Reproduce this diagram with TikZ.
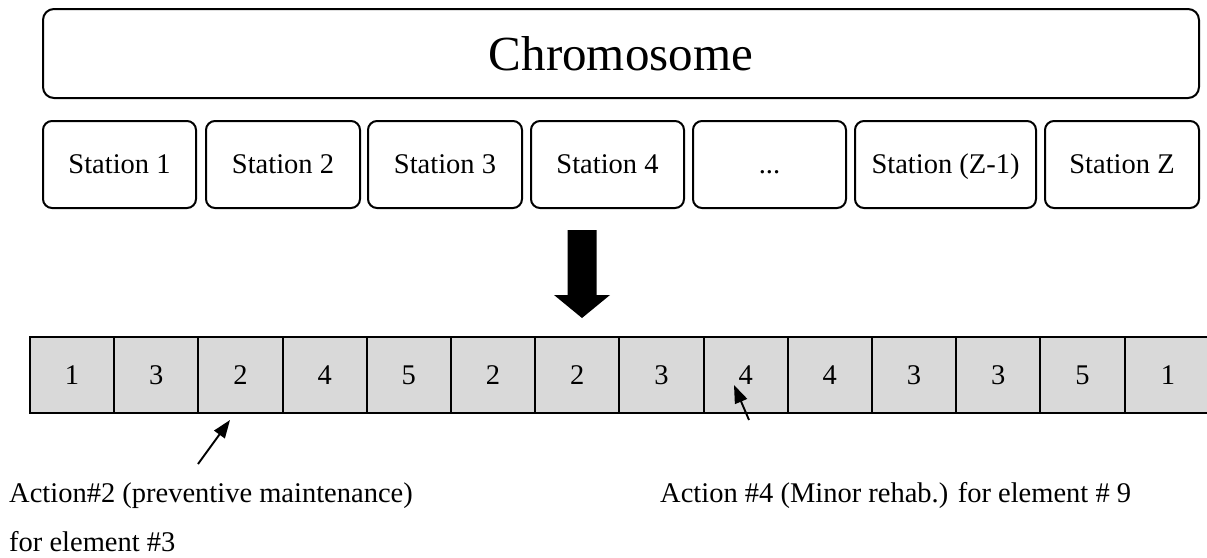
\documentclass[tikz,border=0pt]{standalone}
\usepackage{fontspec}
\setmainfont{Liberation Serif}
\usetikzlibrary{arrows.meta}
\definecolor{cellgray}{RGB}{217,217,217}
\newcommand\stationgap{...}

\begin{document}
\begin{tikzpicture}[x=1pt,y=-1pt,
  frame/.style={draw, line width=2pt, rounded corners=9pt, anchor=north west, inner sep=0pt},
  stationbox/.style={frame, minimum height=87pt, text height=20pt, text depth=2pt,
    font=\fontsize{28.5}{32}\selectfont},
  cell/.style={draw, line width=1.9pt, fill=cellgray, anchor=north west,
    minimum width=84.2pt, minimum height=76pt, inner sep=0pt, font=\fontsize{28.5}{32}\selectfont},
  note/.style={anchor=base west, inner sep=0pt, font=\fontsize{28.5}{32}\selectfont},
  pointer/.style={-{Triangle[length=18pt,width=13pt]}, line width=1.9pt}
]
\useasboundingbox (0,0) rectangle (1207,557);

% the chromosome header
\node[frame, rounded corners=11pt, minimum width=1156pt, minimum height=89pt,
  font=\fontsize{49}{52}\selectfont] (chrom) at (42,8) {Chromosome};

% one box per station
\foreach \x/\w/\t [count=\i] in {42/153/Station 1, 205/154/Station 2, 367/154/Station 3,
    530/153/Station 4, 692/153/\stationgap, 854/181/Station (Z-1), 1044/154/Station Z}
  \node[stationbox, minimum width=\w pt] (st\i) at (\x,120) {\t};

% block arrow from the stations down to the encoded string
\coordinate (bigtop) at (582,230);
\fill[shift={(bigtop)}] (-14.5,0) -- (14.5,0) -- (14.5,65) -- (28,65) -- (0,88)
  -- (-28,65) -- (-14.5,65) -- cycle;

% the encoded string of actions
\foreach \v [count=\i] in {1,3,2,4,5,2,2,3,4,4,3,3,5}
  \node[cell] (c\i) at ({29+84.2*(\i-1)},336) {\v};
\node[cell, minimum width=86pt] (c14) at (1124,336) {1};

% annotations
\node[note] (lab1) at (9,502) {Action\#2 (preventive maintenance)};
\node[note] (lab1b) at (9,551) {for element \#3};
\node[note] (lab2) at (660,502) {Action \#4 (Minor rehab.) for element \# 9};

\coordinate (p1tail) at (198,464);
\coordinate (p1tip) at (230,420);
\draw[pointer] (p1tail) -- (p1tip);
\coordinate (p2tail) at (749,420);
\coordinate (p2tip) at (734,385);
\draw[pointer] (p2tail) -- (p2tip);
\end{tikzpicture}
\end{document}
